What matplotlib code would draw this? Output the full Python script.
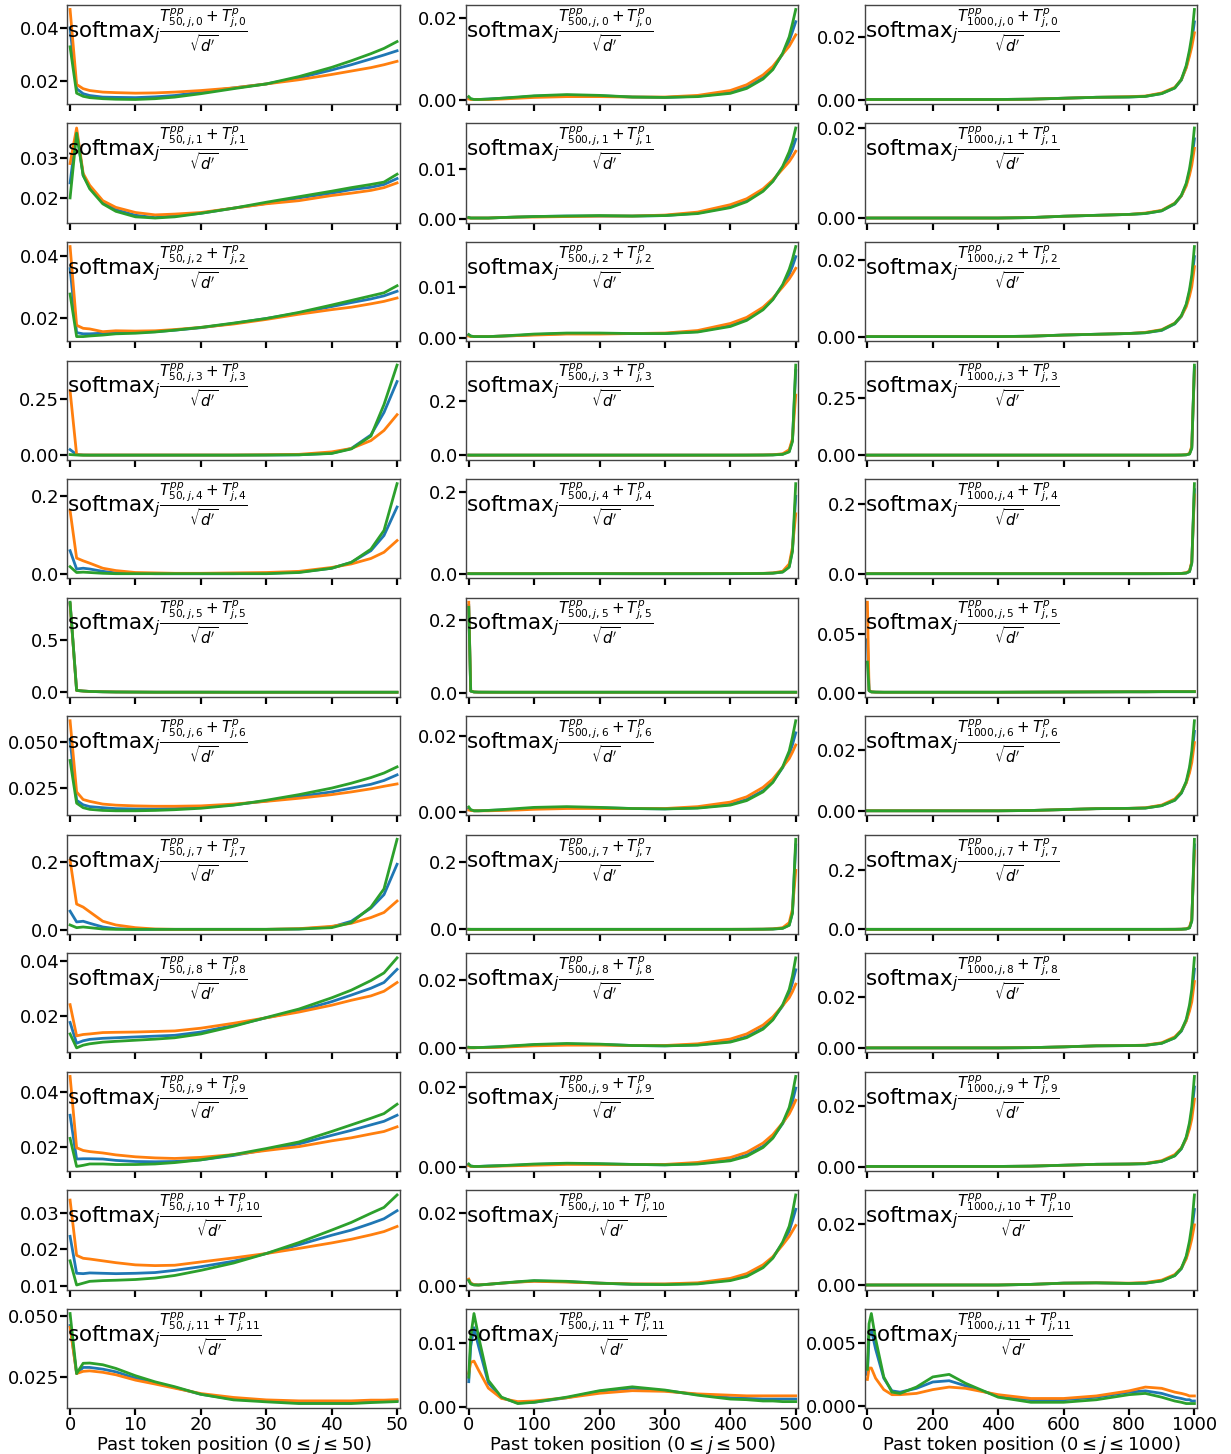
import matplotlib
matplotlib.use("Agg")
import matplotlib.pyplot as plt
from matplotlib.ticker import MaxNLocator, MultipleLocator

# sampled past token positions for the three context lengths
x_50 = [0, 1, 2, 3, 5, 7, 10, 13, 16, 20, 25, 30, 35, 40, 43, 46, 48, 50]
x_500 = [0, 3, 8, 15, 30, 50, 75, 100, 150, 200, 250, 300, 350, 400, 425,
         450, 465, 480, 490, 495, 500]
x_1000 = [0, 5, 12, 25, 50, 75, 100, 150, 200, 250, 300, 400, 500, 600, 700,
          800, 850, 900, 940, 960, 975, 985, 992, 1000]

# each head: (blue, orange, green) attention weights
# ---- context 50 ----
h0_50 = ([0.0400, 0.0169, 0.0150, 0.0143, 0.0137, 0.0136, 0.0135, 0.0138, 0.0143, 0.0156, 0.0172, 0.0187, 0.0210, 0.0240, 0.0260, 0.0282, 0.0297, 0.0313],
         [0.0470, 0.0185, 0.0169, 0.0162, 0.0156, 0.0154, 0.0152, 0.0153, 0.0156, 0.0162, 0.0172, 0.0187, 0.0203, 0.0223, 0.0236, 0.0249, 0.0260, 0.0273],
         [0.0328, 0.0152, 0.0140, 0.0135, 0.0131, 0.0129, 0.0128, 0.0131, 0.0137, 0.0150, 0.0169, 0.0187, 0.0215, 0.0250, 0.0275, 0.0302, 0.0322, 0.0348])
h1_50 = ([0.0238, 0.0368, 0.0257, 0.0227, 0.0189, 0.0170, 0.0156, 0.0150, 0.0155, 0.0161, 0.0174, 0.0186, 0.0200, 0.0212, 0.0221, 0.0227, 0.0234, 0.0249],
         [0.0287, 0.0377, 0.0262, 0.0232, 0.0193, 0.0176, 0.0163, 0.0157, 0.0159, 0.0163, 0.0174, 0.0185, 0.0193, 0.0206, 0.0212, 0.0219, 0.0226, 0.0238],
         [0.0200, 0.0364, 0.0257, 0.0223, 0.0185, 0.0166, 0.0152, 0.0149, 0.0152, 0.0161, 0.0174, 0.0189, 0.0203, 0.0217, 0.0226, 0.0234, 0.0240, 0.0260])
h2_50 = ([0.0360, 0.0151, 0.0147, 0.0147, 0.0149, 0.0151, 0.0152, 0.0154, 0.0159, 0.0167, 0.0181, 0.0197, 0.0215, 0.0236, 0.0249, 0.0261, 0.0271, 0.0286],
         [0.0432, 0.0175, 0.0165, 0.0163, 0.0154, 0.0157, 0.0156, 0.0157, 0.0161, 0.0168, 0.0179, 0.0194, 0.0211, 0.0226, 0.0234, 0.0245, 0.0253, 0.0264],
         [0.0277, 0.0138, 0.0138, 0.0140, 0.0143, 0.0147, 0.0149, 0.0153, 0.0159, 0.0168, 0.0182, 0.0197, 0.0217, 0.0241, 0.0256, 0.0271, 0.0281, 0.0304])
h3_50 = ([0.025, 0.003, 0.001, 0.0005, 0.0005, 0.0005, 0.0005, 0.0005, 0.0005, 0.0005, 0.0005, 0.001, 0.002, 0.009, 0.030, 0.090, 0.190, 0.327],
         [0.286, 0.003, 0.001, 0.001, 0.001, 0.001, 0.001, 0.001, 0.001, 0.001, 0.001, 0.002, 0.004, 0.015, 0.030, 0.065, 0.110, 0.180],
         [0.003, 0.001, 0.0005, 0.0005, 0.0005, 0.0005, 0.0005, 0.0005, 0.0005, 0.0005, 0.0005, 0.001, 0.002, 0.008, 0.028, 0.085, 0.225, 0.400])
h4_50 = ([0.060, 0.013, 0.015, 0.013, 0.007, 0.003, 0.002, 0.001, 0.001, 0.001, 0.001, 0.002, 0.005, 0.015, 0.030, 0.060, 0.099, 0.172],
         [0.163, 0.041, 0.034, 0.028, 0.015, 0.009, 0.004, 0.003, 0.002, 0.002, 0.003, 0.004, 0.007, 0.017, 0.026, 0.040, 0.056, 0.086],
         [0.019, 0.004, 0.005, 0.004, 0.002, 0.001, 0.001, 0.001, 0.001, 0.001, 0.001, 0.001, 0.004, 0.015, 0.030, 0.064, 0.112, 0.232])
h5_50 = ([0.855, 0.019, 0.013, 0.009, 0.006, 0.004, 0.003, 0.002, 0.002, 0.002, 0.0015, 0.0015, 0.0015, 0.0015, 0.0015, 0.0015, 0.0015, 0.0015],
         [0.850, 0.018, 0.013, 0.009, 0.006, 0.004, 0.003, 0.002, 0.002, 0.002, 0.0015, 0.0015, 0.0015, 0.0015, 0.0015, 0.0015, 0.0015, 0.0015],
         [0.865, 0.019, 0.013, 0.009, 0.006, 0.004, 0.003, 0.002, 0.002, 0.002, 0.0015, 0.0015, 0.0015, 0.0015, 0.0015, 0.0015, 0.0015, 0.0015])
h6_50 = ([0.0515, 0.0181, 0.0156, 0.0146, 0.0140, 0.0135, 0.0133, 0.0133, 0.0135, 0.0142, 0.0156, 0.0177, 0.0202, 0.0227, 0.0248, 0.0269, 0.0290, 0.0321],
         [0.0619, 0.0227, 0.0185, 0.0175, 0.0160, 0.0154, 0.0150, 0.0148, 0.0148, 0.0150, 0.0160, 0.0175, 0.0192, 0.0212, 0.0227, 0.0244, 0.0258, 0.0271],
         [0.0400, 0.0165, 0.0140, 0.0131, 0.0125, 0.0123, 0.0123, 0.0125, 0.0129, 0.0137, 0.0154, 0.0181, 0.0212, 0.0248, 0.0275, 0.0306, 0.0331, 0.0365])
h7_50 = ([0.055, 0.023, 0.025, 0.019, 0.008, 0.003, 0.001, 0.001, 0.001, 0.001, 0.001, 0.001, 0.002, 0.008, 0.025, 0.064, 0.104, 0.194],
         [0.206, 0.076, 0.067, 0.053, 0.025, 0.014, 0.006, 0.002, 0.001, 0.001, 0.001, 0.001, 0.003, 0.010, 0.019, 0.036, 0.051, 0.085],
         [0.014, 0.006, 0.008, 0.006, 0.002, 0.001, 0.001, 0.001, 0.001, 0.001, 0.001, 0.001, 0.002, 0.006, 0.021, 0.067, 0.121, 0.268])
h8_50 = ([0.0175, 0.0099, 0.0108, 0.0113, 0.0117, 0.0119, 0.0122, 0.0125, 0.0128, 0.0140, 0.0164, 0.0192, 0.0217, 0.0251, 0.0275, 0.0300, 0.0321, 0.0369],
         [0.0240, 0.0126, 0.0131, 0.0133, 0.0138, 0.0139, 0.0140, 0.0142, 0.0144, 0.0154, 0.0172, 0.0192, 0.0213, 0.0238, 0.0256, 0.0272, 0.0289, 0.0321],
         [0.0133, 0.0082, 0.0092, 0.0097, 0.0103, 0.0106, 0.0110, 0.0114, 0.0119, 0.0133, 0.0161, 0.0193, 0.0224, 0.0265, 0.0293, 0.0328, 0.0356, 0.0411])
h9_50 = ([0.0314, 0.0155, 0.0156, 0.0156, 0.0155, 0.0150, 0.0146, 0.0145, 0.0146, 0.0152, 0.0168, 0.0189, 0.0210, 0.0241, 0.0259, 0.0279, 0.0292, 0.0314],
         [0.0455, 0.0196, 0.0186, 0.0182, 0.0177, 0.0170, 0.0163, 0.0159, 0.0157, 0.0161, 0.0171, 0.0186, 0.0200, 0.0221, 0.0232, 0.0246, 0.0255, 0.0272],
         [0.0230, 0.0128, 0.0132, 0.0137, 0.0137, 0.0135, 0.0135, 0.0137, 0.0142, 0.0152, 0.0171, 0.0193, 0.0217, 0.0255, 0.0279, 0.0303, 0.0320, 0.0354])
h10_50 = ([0.0235, 0.0134, 0.0133, 0.0135, 0.0134, 0.0133, 0.0134, 0.0136, 0.0142, 0.0152, 0.0167, 0.0188, 0.0212, 0.0238, 0.0252, 0.0270, 0.0283, 0.0305],
          [0.0334, 0.0183, 0.0175, 0.0173, 0.0168, 0.0163, 0.0157, 0.0155, 0.0156, 0.0165, 0.0176, 0.0188, 0.0202, 0.0217, 0.0227, 0.0239, 0.0248, 0.0262],
          [0.0168, 0.0102, 0.0107, 0.0112, 0.0114, 0.0115, 0.0117, 0.0121, 0.0128, 0.0142, 0.0162, 0.0188, 0.0218, 0.0252, 0.0273, 0.0298, 0.0314, 0.0348])
h11_50 = ([0.0463, 0.0266, 0.0291, 0.0291, 0.0284, 0.0273, 0.0247, 0.0227, 0.0209, 0.0181, 0.0161, 0.0154, 0.0147, 0.0148, 0.0147, 0.0151, 0.0151, 0.0154],
          [0.0456, 0.0266, 0.0275, 0.0277, 0.0271, 0.0261, 0.0239, 0.0223, 0.0206, 0.0184, 0.0168, 0.0158, 0.0154, 0.0154, 0.0154, 0.0157, 0.0157, 0.0159],
          [0.0512, 0.0266, 0.0308, 0.0309, 0.0302, 0.0287, 0.0257, 0.0232, 0.0212, 0.0181, 0.0158, 0.0150, 0.0143, 0.0143, 0.0143, 0.0147, 0.0149, 0.0151])

# ---- context 500 ----
h0_500 = ([0.0006, 0.0003, 0.0002, 0.0002, 0.0003, 0.0005, 0.0007, 0.0010, 0.0012, 0.0011, 0.0008, 0.0007, 0.0010, 0.0019, 0.0032, 0.0055, 0.0078, 0.0113, 0.0145, 0.0168, 0.0192],
          [0.0003, 0.0002, 0.0002, 0.0002, 0.0002, 0.0003, 0.0005, 0.0007, 0.0009, 0.0009, 0.0008, 0.0008, 0.0012, 0.0024, 0.0038, 0.0062, 0.0083, 0.0113, 0.0132, 0.0146, 0.0160],
          [0.0009, 0.0004, 0.0002, 0.0002, 0.0003, 0.0005, 0.0008, 0.0011, 0.0014, 0.0012, 0.0008, 0.0007, 0.0009, 0.0017, 0.0029, 0.0052, 0.0075, 0.0115, 0.0155, 0.0187, 0.0222])
h1_500 = ([0.0002, 0.0001, 0.0001, 0.0001, 0.0001, 0.0002, 0.0003, 0.0004, 0.0005, 0.0005, 0.0005, 0.0006, 0.0011, 0.0024, 0.0036, 0.0057, 0.0076, 0.0103, 0.0125, 0.0140, 0.0160],
          [0.0001, 0.0001, 0.0001, 0.0001, 0.0001, 0.0002, 0.0003, 0.0003, 0.0004, 0.0005, 0.0005, 0.0007, 0.0013, 0.0028, 0.0040, 0.0060, 0.0078, 0.0100, 0.0115, 0.0125, 0.0136],
          [0.0002, 0.0001, 0.0001, 0.0001, 0.0001, 0.0002, 0.0003, 0.0004, 0.0005, 0.0006, 0.0005, 0.0006, 0.0010, 0.0022, 0.0034, 0.0055, 0.0075, 0.0105, 0.0135, 0.0155, 0.0183])
h2_500 = ([0.0005, 0.0003, 0.0002, 0.0002, 0.0002, 0.0003, 0.0004, 0.0006, 0.0008, 0.0008, 0.0008, 0.0008, 0.0012, 0.0024, 0.0036, 0.0057, 0.0076, 0.0103, 0.0125, 0.0141, 0.0160],
          [0.0003, 0.0002, 0.0002, 0.0002, 0.0002, 0.0003, 0.0004, 0.0005, 0.0007, 0.0007, 0.0008, 0.0009, 0.0014, 0.0028, 0.0040, 0.0060, 0.0078, 0.0100, 0.0116, 0.0126, 0.0137],
          [0.0006, 0.0003, 0.0002, 0.0002, 0.0002, 0.0003, 0.0005, 0.0007, 0.0009, 0.0009, 0.0008, 0.0008, 0.0011, 0.0022, 0.0034, 0.0055, 0.0075, 0.0105, 0.0135, 0.0155, 0.0180])
h3_500 = ([0.0002, 0.0001, 0.0001, 0.0001, 0.0001, 0.0001, 0.0001, 0.0001, 0.0001, 0.0001, 0.0001, 0.0001, 0.0001, 0.0001, 0.0002, 0.0005, 0.0011, 0.0035, 0.0140, 0.0550, 0.3100],
          [0.0002, 0.0001, 0.0001, 0.0001, 0.0001, 0.0001, 0.0001, 0.0001, 0.0001, 0.0001, 0.0001, 0.0001, 0.0001, 0.0002, 0.0003, 0.0007, 0.0015, 0.0050, 0.0200, 0.0600, 0.2200],
          [0.0002, 0.0001, 0.0001, 0.0001, 0.0001, 0.0001, 0.0001, 0.0001, 0.0001, 0.0001, 0.0001, 0.0001, 0.0001, 0.0001, 0.0002, 0.0005, 0.0010, 0.0030, 0.0120, 0.0500, 0.3300])
h4_500 = ([0.0002, 0.0001, 0.0001, 0.0001, 0.0001, 0.0001, 0.0001, 0.0001, 0.0002, 0.0002, 0.0001, 0.0001, 0.0001, 0.0002, 0.0003, 0.0007, 0.0014, 0.0045, 0.0180, 0.0580, 0.1900],
          [0.0002, 0.0001, 0.0001, 0.0001, 0.0001, 0.0001, 0.0001, 0.0001, 0.0002, 0.0002, 0.0001, 0.0001, 0.0002, 0.0003, 0.0005, 0.0010, 0.0020, 0.0060, 0.0240, 0.0650, 0.1470],
          [0.0002, 0.0001, 0.0001, 0.0001, 0.0001, 0.0001, 0.0001, 0.0001, 0.0002, 0.0002, 0.0001, 0.0001, 0.0001, 0.0002, 0.0003, 0.0007, 0.0014, 0.0040, 0.0160, 0.0550, 0.2210])
h5_500 = ([0.2400, 0.0040, 0.0015, 0.0010, 0.0009, 0.0008, 0.0008, 0.0008, 0.0008, 0.0008, 0.0008, 0.0008, 0.0008, 0.0008, 0.0008, 0.0008, 0.0008, 0.0008, 0.0008, 0.0008, 0.0008],
          [0.2490, 0.0045, 0.0016, 0.0010, 0.0009, 0.0008, 0.0008, 0.0008, 0.0008, 0.0008, 0.0008, 0.0008, 0.0008, 0.0008, 0.0008, 0.0008, 0.0008, 0.0008, 0.0008, 0.0008, 0.0008],
          [0.2350, 0.0040, 0.0015, 0.0010, 0.0009, 0.0008, 0.0008, 0.0008, 0.0008, 0.0008, 0.0008, 0.0008, 0.0008, 0.0008, 0.0008, 0.0008, 0.0008, 0.0008, 0.0008, 0.0008, 0.0008])
h6_500 = ([0.0008, 0.0004, 0.0002, 0.0002, 0.0003, 0.0004, 0.0006, 0.0009, 0.0011, 0.0010, 0.0008, 0.0007, 0.0010, 0.0019, 0.0032, 0.0055, 0.0079, 0.0116, 0.0150, 0.0177, 0.0208],
          [0.0004, 0.0003, 0.0002, 0.0002, 0.0002, 0.0003, 0.0004, 0.0006, 0.0008, 0.0008, 0.0008, 0.0008, 0.0013, 0.0025, 0.0039, 0.0064, 0.0086, 0.0118, 0.0140, 0.0157, 0.0176],
          [0.0012, 0.0005, 0.0002, 0.0002, 0.0003, 0.0005, 0.0008, 0.0011, 0.0013, 0.0011, 0.0008, 0.0007, 0.0009, 0.0017, 0.0029, 0.0052, 0.0077, 0.0118, 0.0160, 0.0197, 0.0240])
h7_500 = ([0.0002, 0.0001, 0.0001, 0.0001, 0.0001, 0.0001, 0.0001, 0.0001, 0.0001, 0.0001, 0.0001, 0.0001, 0.0001, 0.0001, 0.0002, 0.0005, 0.0011, 0.0035, 0.0130, 0.0500, 0.2500],
          [0.0002, 0.0001, 0.0001, 0.0001, 0.0001, 0.0001, 0.0001, 0.0001, 0.0001, 0.0001, 0.0001, 0.0001, 0.0001, 0.0002, 0.0003, 0.0007, 0.0015, 0.0050, 0.0200, 0.0600, 0.1750],
          [0.0002, 0.0001, 0.0001, 0.0001, 0.0001, 0.0001, 0.0001, 0.0001, 0.0001, 0.0001, 0.0001, 0.0001, 0.0001, 0.0001, 0.0002, 0.0005, 0.0010, 0.0030, 0.0120, 0.0480, 0.2670])
h8_500 = ([0.0002, 0.0002, 0.0002, 0.0002, 0.0003, 0.0004, 0.0007, 0.0010, 0.0012, 0.0011, 0.0008, 0.0007, 0.0010, 0.0020, 0.0034, 0.0059, 0.0085, 0.0124, 0.0160, 0.0192, 0.0230],
          [0.0001, 0.0001, 0.0001, 0.0002, 0.0002, 0.0003, 0.0005, 0.0007, 0.0009, 0.0009, 0.0008, 0.0008, 0.0013, 0.0027, 0.0042, 0.0068, 0.0092, 0.0125, 0.0148, 0.0166, 0.0188],
          [0.0003, 0.0002, 0.0002, 0.0002, 0.0003, 0.0005, 0.0008, 0.0011, 0.0014, 0.0012, 0.0008, 0.0007, 0.0009, 0.0018, 0.0031, 0.0056, 0.0083, 0.0127, 0.0172, 0.0212, 0.0265])
h9_500 = ([0.0006, 0.0003, 0.0002, 0.0002, 0.0003, 0.0004, 0.0005, 0.0007, 0.0009, 0.0008, 0.0007, 0.0006, 0.0009, 0.0018, 0.0030, 0.0052, 0.0074, 0.0108, 0.0138, 0.0163, 0.0196],
          [0.0004, 0.0002, 0.0002, 0.0002, 0.0002, 0.0003, 0.0004, 0.0005, 0.0007, 0.0007, 0.0007, 0.0007, 0.0012, 0.0024, 0.0037, 0.0060, 0.0081, 0.0110, 0.0132, 0.0148, 0.0166],
          [0.0008, 0.0003, 0.0002, 0.0002, 0.0003, 0.0004, 0.0006, 0.0008, 0.0010, 0.0009, 0.0007, 0.0006, 0.0008, 0.0016, 0.0027, 0.0049, 0.0072, 0.0110, 0.0148, 0.0182, 0.0225])
h10_500 = ([0.0017, 0.0007, 0.0004, 0.0003, 0.0005, 0.0008, 0.0011, 0.0014, 0.0012, 0.0008, 0.0005, 0.0005, 0.0007, 0.0017, 0.0029, 0.0053, 0.0078, 0.0117, 0.0150, 0.0178, 0.0209],
           [0.0019, 0.0008, 0.0004, 0.0003, 0.0005, 0.0008, 0.0011, 0.0013, 0.0011, 0.0008, 0.0006, 0.0006, 0.0009, 0.0021, 0.0034, 0.0058, 0.0080, 0.0112, 0.0135, 0.0150, 0.0165],
           [0.0015, 0.0006, 0.0003, 0.0003, 0.0005, 0.0008, 0.0012, 0.0015, 0.0013, 0.0008, 0.0005, 0.0004, 0.0006, 0.0015, 0.0026, 0.0050, 0.0076, 0.0120, 0.0163, 0.0200, 0.0248])
h11_500 = ([0.0040, 0.0095, 0.0124, 0.0095, 0.0038, 0.0015, 0.0007, 0.0008, 0.0015, 0.0025, 0.0030, 0.0026, 0.0020, 0.0015, 0.0014, 0.0013, 0.0013, 0.0013, 0.0013, 0.0013, 0.0013],
           [0.0053, 0.0070, 0.0072, 0.0058, 0.0030, 0.0014, 0.0009, 0.0010, 0.0015, 0.0022, 0.0026, 0.0025, 0.0021, 0.0019, 0.0018, 0.0018, 0.0018, 0.0018, 0.0018, 0.0018, 0.0018],
           [0.0047, 0.0110, 0.0146, 0.0110, 0.0042, 0.0016, 0.0006, 0.0008, 0.0016, 0.0026, 0.0032, 0.0027, 0.0019, 0.0013, 0.0012, 0.0010, 0.0010, 0.0009, 0.0009, 0.0009, 0.0009])

# ---- context 1000 ----
h0_1000 = ([0.0001, 0.0001, 0.0001, 0.0001, 0.0001, 0.0001, 0.0001, 0.0001, 0.0001, 0.0001, 0.0001, 0.0001, 0.0002, 0.0005, 0.0008, 0.0009, 0.0011, 0.0020, 0.0038, 0.0063, 0.0105, 0.0150, 0.0188, 0.0250],
           [0.0001, 0.0001, 0.0001, 0.0001, 0.0001, 0.0001, 0.0001, 0.0001, 0.0001, 0.0001, 0.0001, 0.0001, 0.0002, 0.0005, 0.0008, 0.0010, 0.0012, 0.0022, 0.0040, 0.0065, 0.0102, 0.0140, 0.0170, 0.0215],
           [0.0001, 0.0001, 0.0001, 0.0001, 0.0001, 0.0001, 0.0001, 0.0001, 0.0001, 0.0001, 0.0001, 0.0001, 0.0002, 0.0005, 0.0008, 0.0009, 0.0011, 0.0020, 0.0038, 0.0065, 0.0110, 0.0160, 0.0205, 0.0290])
h1_1000 = ([0.0001, 0.0001, 0.0001, 0.0001, 0.0001, 0.0001, 0.0001, 0.0001, 0.0001, 0.0001, 0.0001, 0.0001, 0.0002, 0.0005, 0.0007, 0.0009, 0.0011, 0.0017, 0.0032, 0.0050, 0.0075, 0.0103, 0.0130, 0.0176],
           [0.0001, 0.0001, 0.0001, 0.0001, 0.0001, 0.0001, 0.0001, 0.0001, 0.0001, 0.0001, 0.0001, 0.0001, 0.0002, 0.0005, 0.0007, 0.0009, 0.0012, 0.0018, 0.0034, 0.0050, 0.0072, 0.0096, 0.0118, 0.0155],
           [0.0001, 0.0001, 0.0001, 0.0001, 0.0001, 0.0001, 0.0001, 0.0001, 0.0001, 0.0001, 0.0001, 0.0001, 0.0002, 0.0005, 0.0007, 0.0009, 0.0011, 0.0017, 0.0033, 0.0051, 0.0078, 0.0110, 0.0142, 0.0200])
h2_1000 = ([0.0001, 0.0001, 0.0001, 0.0001, 0.0001, 0.0001, 0.0001, 0.0001, 0.0001, 0.0001, 0.0001, 0.0001, 0.0002, 0.0005, 0.0007, 0.0009, 0.0011, 0.0017, 0.0034, 0.0053, 0.0082, 0.0115, 0.0148, 0.0208],
           [0.0001, 0.0001, 0.0001, 0.0001, 0.0001, 0.0001, 0.0001, 0.0001, 0.0001, 0.0001, 0.0001, 0.0001, 0.0002, 0.0005, 0.0007, 0.0009, 0.0012, 0.0019, 0.0036, 0.0054, 0.0078, 0.0105, 0.0130, 0.0182],
           [0.0001, 0.0001, 0.0001, 0.0001, 0.0001, 0.0001, 0.0001, 0.0001, 0.0001, 0.0001, 0.0001, 0.0001, 0.0002, 0.0005, 0.0007, 0.0009, 0.0011, 0.0018, 0.0035, 0.0055, 0.0085, 0.0122, 0.0160, 0.0234])
h3_1000 = ([0.0001, 0.0001, 0.0001, 0.0001, 0.0001, 0.0001, 0.0001, 0.0001, 0.0001, 0.0001, 0.0001, 0.0001, 0.0001, 0.0001, 0.0001, 0.0001, 0.0001, 0.0001, 0.0002, 0.0005, 0.0016, 0.0055, 0.0330, 0.3850],
           [0.0001, 0.0001, 0.0001, 0.0001, 0.0001, 0.0001, 0.0001, 0.0001, 0.0001, 0.0001, 0.0001, 0.0001, 0.0001, 0.0001, 0.0001, 0.0001, 0.0001, 0.0001, 0.0003, 0.0007, 0.0020, 0.0070, 0.0400, 0.3700],
           [0.0001, 0.0001, 0.0001, 0.0001, 0.0001, 0.0001, 0.0001, 0.0001, 0.0001, 0.0001, 0.0001, 0.0001, 0.0001, 0.0001, 0.0001, 0.0001, 0.0001, 0.0001, 0.0002, 0.0005, 0.0015, 0.0050, 0.0300, 0.3940])
h4_1000 = ([0.0001, 0.0001, 0.0001, 0.0001, 0.0001, 0.0001, 0.0001, 0.0001, 0.0001, 0.0001, 0.0001, 0.0001, 0.0001, 0.0001, 0.0001, 0.0001, 0.0001, 0.0002, 0.0003, 0.0007, 0.0020, 0.0065, 0.0320, 0.2400],
           [0.0001, 0.0001, 0.0001, 0.0001, 0.0001, 0.0001, 0.0001, 0.0001, 0.0001, 0.0001, 0.0001, 0.0001, 0.0001, 0.0001, 0.0001, 0.0001, 0.0001, 0.0002, 0.0004, 0.0010, 0.0030, 0.0080, 0.0350, 0.2250],
           [0.0001, 0.0001, 0.0001, 0.0001, 0.0001, 0.0001, 0.0001, 0.0001, 0.0001, 0.0001, 0.0001, 0.0001, 0.0001, 0.0001, 0.0001, 0.0001, 0.0001, 0.0002, 0.0003, 0.0007, 0.0020, 0.0060, 0.0300, 0.2570])
h5_1000 = ([0.0450, 0.0018, 0.0006, 0.0004, 0.0003, 0.0003, 0.0003, 0.0003, 0.0003, 0.0003, 0.0003, 0.0003, 0.0004, 0.0005, 0.0006, 0.0007, 0.0007, 0.0008, 0.0008, 0.0008, 0.0008, 0.0008, 0.0008, 0.0008],
           [0.0770, 0.0020, 0.0006, 0.0004, 0.0003, 0.0003, 0.0003, 0.0003, 0.0003, 0.0003, 0.0003, 0.0003, 0.0004, 0.0005, 0.0006, 0.0007, 0.0007, 0.0008, 0.0008, 0.0008, 0.0008, 0.0008, 0.0008, 0.0008],
           [0.0260, 0.0015, 0.0006, 0.0004, 0.0003, 0.0003, 0.0003, 0.0003, 0.0003, 0.0003, 0.0003, 0.0003, 0.0004, 0.0005, 0.0006, 0.0007, 0.0007, 0.0008, 0.0008, 0.0008, 0.0008, 0.0008, 0.0008, 0.0008])
h6_1000 = ([0.0001, 0.0001, 0.0001, 0.0001, 0.0001, 0.0001, 0.0001, 0.0001, 0.0001, 0.0001, 0.0001, 0.0001, 0.0002, 0.0005, 0.0008, 0.0009, 0.0010, 0.0018, 0.0036, 0.0059, 0.0094, 0.0135, 0.0180, 0.0263],
           [0.0001, 0.0001, 0.0001, 0.0001, 0.0001, 0.0001, 0.0001, 0.0001, 0.0001, 0.0001, 0.0001, 0.0001, 0.0002, 0.0005, 0.0008, 0.0009, 0.0011, 0.0020, 0.0040, 0.0063, 0.0093, 0.0126, 0.0160, 0.0226],
           [0.0001, 0.0001, 0.0001, 0.0001, 0.0001, 0.0001, 0.0001, 0.0001, 0.0001, 0.0001, 0.0001, 0.0001, 0.0002, 0.0005, 0.0008, 0.0009, 0.0010, 0.0018, 0.0036, 0.0060, 0.0098, 0.0145, 0.0197, 0.0298])
h7_1000 = ([0.0001, 0.0001, 0.0001, 0.0001, 0.0001, 0.0001, 0.0001, 0.0001, 0.0001, 0.0001, 0.0001, 0.0001, 0.0001, 0.0001, 0.0001, 0.0001, 0.0001, 0.0001, 0.0002, 0.0005, 0.0016, 0.0055, 0.0300, 0.2850],
           [0.0001, 0.0001, 0.0001, 0.0001, 0.0001, 0.0001, 0.0001, 0.0001, 0.0001, 0.0001, 0.0001, 0.0001, 0.0001, 0.0001, 0.0001, 0.0001, 0.0001, 0.0001, 0.0003, 0.0007, 0.0020, 0.0070, 0.0350, 0.2650],
           [0.0001, 0.0001, 0.0001, 0.0001, 0.0001, 0.0001, 0.0001, 0.0001, 0.0001, 0.0001, 0.0001, 0.0001, 0.0001, 0.0001, 0.0001, 0.0001, 0.0001, 0.0001, 0.0002, 0.0005, 0.0015, 0.0050, 0.0280, 0.3040])
h8_1000 = ([0.0001, 0.0001, 0.0001, 0.0001, 0.0001, 0.0001, 0.0001, 0.0001, 0.0001, 0.0001, 0.0001, 0.0001, 0.0002, 0.0005, 0.0009, 0.0010, 0.0011, 0.0019, 0.0040, 0.0066, 0.0106, 0.0155, 0.0205, 0.0307],
           [0.0001, 0.0001, 0.0001, 0.0001, 0.0001, 0.0001, 0.0001, 0.0001, 0.0001, 0.0001, 0.0001, 0.0001, 0.0002, 0.0005, 0.0009, 0.0010, 0.0012, 0.0021, 0.0044, 0.0070, 0.0105, 0.0144, 0.0180, 0.0259],
           [0.0001, 0.0001, 0.0001, 0.0001, 0.0001, 0.0001, 0.0001, 0.0001, 0.0001, 0.0001, 0.0001, 0.0001, 0.0002, 0.0005, 0.0009, 0.0010, 0.0011, 0.0019, 0.0040, 0.0068, 0.0112, 0.0168, 0.0228, 0.0351])
h9_1000 = ([0.0001, 0.0001, 0.0001, 0.0001, 0.0001, 0.0001, 0.0001, 0.0001, 0.0001, 0.0001, 0.0001, 0.0001, 0.0002, 0.0005, 0.0008, 0.0009, 0.0010, 0.0018, 0.0036, 0.0059, 0.0094, 0.0135, 0.0180, 0.0263],
           [0.0001, 0.0001, 0.0001, 0.0001, 0.0001, 0.0001, 0.0001, 0.0001, 0.0001, 0.0001, 0.0001, 0.0001, 0.0002, 0.0005, 0.0008, 0.0009, 0.0011, 0.0020, 0.0040, 0.0062, 0.0092, 0.0125, 0.0158, 0.0223],
           [0.0001, 0.0001, 0.0001, 0.0001, 0.0001, 0.0001, 0.0001, 0.0001, 0.0001, 0.0001, 0.0001, 0.0001, 0.0002, 0.0005, 0.0008, 0.0009, 0.0010, 0.0018, 0.0036, 0.0060, 0.0098, 0.0145, 0.0197, 0.0298])
h10_1000 = ([0.0001, 0.0001, 0.0001, 0.0001, 0.0001, 0.0001, 0.0001, 0.0001, 0.0001, 0.0001, 0.0001, 0.0001, 0.0003, 0.0007, 0.0008, 0.0006, 0.0007, 0.0015, 0.0032, 0.0054, 0.0090, 0.0133, 0.0175, 0.0246],
            [0.0001, 0.0001, 0.0001, 0.0001, 0.0001, 0.0001, 0.0001, 0.0001, 0.0001, 0.0001, 0.0001, 0.0001, 0.0003, 0.0007, 0.0008, 0.0007, 0.0009, 0.0017, 0.0035, 0.0056, 0.0086, 0.0120, 0.0150, 0.0196],
            [0.0001, 0.0001, 0.0001, 0.0001, 0.0001, 0.0001, 0.0001, 0.0001, 0.0001, 0.0001, 0.0001, 0.0001, 0.0003, 0.0007, 0.0008, 0.0006, 0.0007, 0.0014, 0.0032, 0.0055, 0.0095, 0.0145, 0.0195, 0.0293])
h11_1000 = ([0.0025, 0.0055, 0.0060, 0.0045, 0.0022, 0.0012, 0.0011, 0.0014, 0.0019, 0.0020, 0.0016, 0.0008, 0.0005, 0.0005, 0.0007, 0.0011, 0.0012, 0.0010, 0.0007, 0.0006, 0.0005, 0.0005, 0.0004, 0.0004],
            [0.0021, 0.0030, 0.0030, 0.0022, 0.0013, 0.0009, 0.0009, 0.0010, 0.0013, 0.0015, 0.0014, 0.0009, 0.0006, 0.0006, 0.0008, 0.0012, 0.0015, 0.0014, 0.0011, 0.0010, 0.0009, 0.0008, 0.0008, 0.0008],
            [0.0029, 0.0065, 0.0073, 0.0053, 0.0023, 0.0011, 0.0010, 0.0015, 0.0023, 0.0025, 0.0018, 0.0007, 0.0003, 0.0003, 0.0005, 0.0009, 0.0010, 0.0007, 0.0004, 0.0003, 0.0002, 0.0002, 0.0002, 0.0002])

colors = ['#1f77b4', '#ff7f0e', '#2ca02c']
lengths = [50, 500, 1000]
positions = [x_50, x_500, x_1000]
tick_steps = [10, 100, 200]

rows = [
    (h0_50, h0_500, h0_1000),
    (h1_50, h1_500, h1_1000),
    (h2_50, h2_500, h2_1000),
    (h3_50, h3_500, h3_1000),
    (h4_50, h4_500, h4_1000),
    (h5_50, h5_500, h5_1000),
    (h6_50, h6_500, h6_1000),
    (h7_50, h7_500, h7_1000),
    (h8_50, h8_500, h8_1000),
    (h9_50, h9_500, h9_1000),
    (h10_50, h10_500, h10_1000),
    (h11_50, h11_500, h11_1000),
]

fig, axes = plt.subplots(12, 3, figsize=(12.31, 14.54), dpi=100)
fig.subplots_adjust(left=0.0548, right=0.9724, top=0.9966, bottom=0.0316,
                    wspace=0.2, hspace=0.197)

for i, row in enumerate(rows):
    for k, series in enumerate(row):
        ax = axes[i][k]
        n = lengths[k]
        for y, c in zip(series, colors):
            ax.plot(positions[k], y, color=c, lw=2)
        ax.margins(x=0.008)
        ax.yaxis.set_major_locator(MaxNLocator(nbins=2, steps=[1, 2, 2.5, 5, 10]))
        ax.xaxis.set_major_locator(MultipleLocator(tick_steps[k]))
        ax.tick_params(direction='out', length=5, width=1.6, labelsize=13, pad=1)
        for sp in ax.spines.values():
            sp.set_color('#444444')
            sp.set_linewidth(1.0)
        label = (r'$\mathrm{softmax}_j\frac{T^{pp}_{%d,j,%d}+T^{p}_{j,%d}}{\sqrt{d^\prime}}$'
                 % (n, i, i))
        ax.text(0.0, 0.75, label, transform=ax.transAxes, fontsize=15.5,
                ha='left', va='center')
        if i == len(rows) - 1:
            ax.set_xlabel(r'Past token position ($0 \leq j \leq %d$)' % n,
                          fontsize=13, labelpad=0)
        else:
            ax.tick_params(labelbottom=False)

fig.savefig('out.png', dpi=100)
